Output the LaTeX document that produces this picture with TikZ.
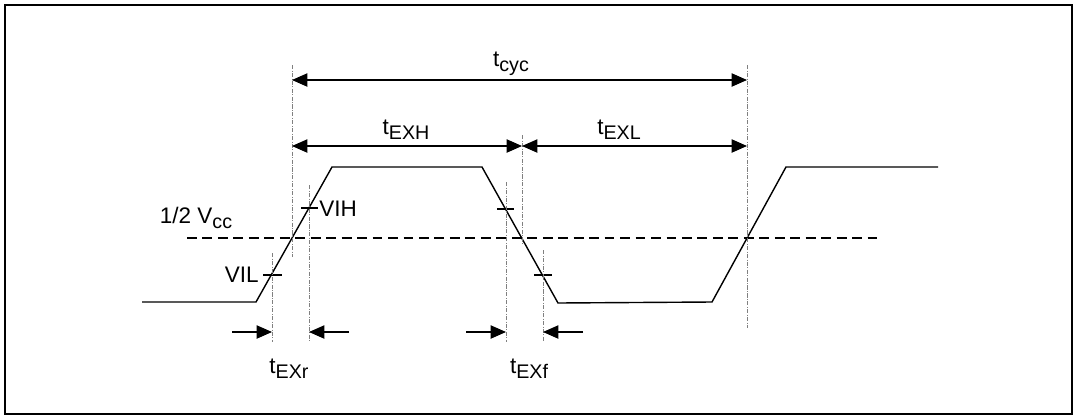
\documentclass[tikz,border=0pt]{standalone}
\usepackage{fontspec}
\setmainfont{Liberation Sans}
\usetikzlibrary{arrows.meta}

\newcommand{\tlab}[1]{t\raisebox{-0.45ex}{\fontsize{14}{15}\selectfont #1}}

\begin{document}
\begin{tikzpicture}[x=0.025cm,y=-0.025cm,
  wave/.style={line width=1pt},
  guide/.style={gray,line width=0.4pt,dash pattern=on 3pt off 1pt on 0.6pt off 1pt},
  half/.style={line width=0.9pt,dash pattern=on 7pt off 4pt},
  dim/.style={line width=0.9pt,-{Triangle[length=11pt,width=9.5pt]}},
  dimboth/.style={line width=0.9pt,{Triangle[length=11pt,width=9.5pt]}-{Triangle[length=11pt,width=9.5pt]}},
  lab/.style={inner sep=0pt,font=\fontsize{16}{18}\selectfont}]
\useasboundingbox (0,0) rectangle (1074,416);
\draw[line width=1pt] (5,5) rectangle (1072,414);

% waveform and the half level
\draw[wave] (142,302) -- (256,302) -- (332,167) -- (482,167) -- (558,303)
  -- (712,302) -- (786,167) -- (938,167);
\draw[half] (187,238) -- (879,238);

% threshold marks
\draw[wave] (263,275) -- (282,275);
\draw[wave] (301,208) -- (318,208);
\draw[wave] (497,209) -- (514,209);
\draw[wave] (534,275) -- (552,275);

% guide lines
\draw[guide] (292,65) -- (292,257);
\draw[guide] (747,65) -- (747,328);
\draw[guide] (522,135) -- (522,245);
\draw[guide] (272,253) -- (272,342);
\draw[guide] (309,185) -- (309,342);
\draw[guide] (506,182) -- (506,342);
\draw[guide] (543,250) -- (543,342);

% dimension ends
\coordinate (cycL) at (292,80);
\coordinate (cycR) at (747,80);
\coordinate (hiL) at (292,146);
\coordinate (hiR) at (522,146);
\coordinate (loR) at (747,146);
\coordinate (rA) at (232,332);
\coordinate (rB) at (272,332);
\coordinate (rC) at (309,332);
\coordinate (rD) at (349,332);
\coordinate (fA) at (466,332);
\coordinate (fB) at (506,332);
\coordinate (fC) at (543,332);
\coordinate (fD) at (583,332);

\draw[dimboth] (cycL) -- (cycR);
\draw[dimboth] (hiL) -- (hiR);
\draw[dimboth] (hiR) -- (loR);
\draw[dim] (rA) -- (rB);
\draw[dim] (rD) -- (rC);
\draw[dim] (fA) -- (fB);
\draw[dim] (fD) -- (fC);

% labels
\node[lab] (tcyc) at (511,64) {\tlab{cyc}};
\node[lab] (texh) at (406,130) {\tlab{EXH}};
\node[lab] (texl) at (619,130) {\tlab{EXL}};
\node[lab] (texr) at (289,369) {\tlab{EXr}};
\node[lab] (texf) at (529,369) {\tlab{EXf}};
\node[lab] (half) at (196,218) {1/2 V\raisebox{-0.45ex}{\fontsize{14}{15}\selectfont cc}};
\node[lab,anchor=east] (vil) at (259,275) {VIL};
\node[lab,anchor=west] (vih) at (319,209) {VIH};
\end{tikzpicture}
\end{document}
